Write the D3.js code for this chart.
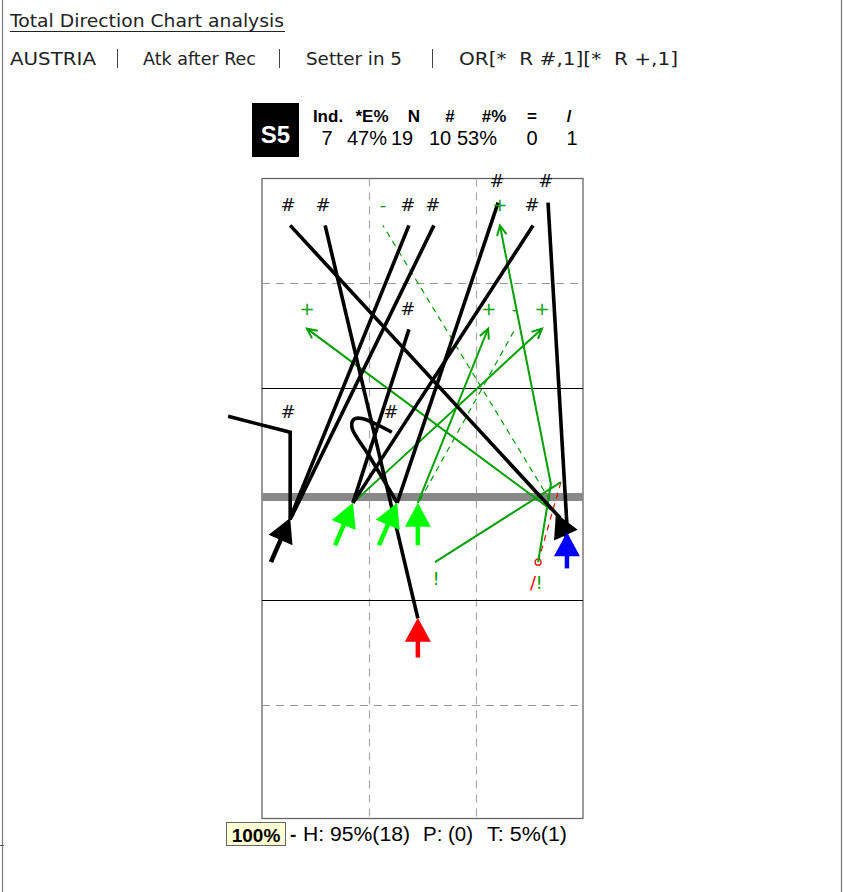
<!DOCTYPE html>
<html>
<head>
<meta charset="utf-8">
<script src="https://cdnjs.cloudflare.com/ajax/libs/d3/7.8.5/d3.min.js"></script>
<style>
  html, body { margin: 0; padding: 0; background: #fff; }
  svg { display: block; }
</style>
</head>
<body>
<div id="chart"></div>
<script>
// ---- data: court coordinates in metres (x across 0-9, y from far baseline 0 to own baseline 18)
var title = 'Total Direction Chart analysis';
var filters = ['AUSTRIA', 'Atk after Rec', 'Setter in 5', 'OR[*  R #,1][*  R +,1]'];

var setter = 'S5';
var statHeads = ['Ind.', '*E%', 'N', '#', '#%', '=', '/'];
var statValues = ['7', '47%', '19', '10', '53%', '0', '1'];

var courtLines = [0, 3, 6, 9, 12, 15, 18];
var laneLines = [0, 3, 6, 9];

// kills (#), start -> end
var killAttacks = [
    [[8.36, 9.61], [0.79, 1.34]],
    [[4.37, 12.51], [1.77, 1.34]],
    [[0.79, 9.61], [4.12, 1.34]],
    [[0.81, 9.61], [4.82, 1.34]],
    [[3.79, 9.17], [6.62, 0.69]],
    [[2.55, 9.17], [7.60, 1.34]],
    [[8.55, 9.82], [8.02, 0.69]],
    [[2.55, 9.17], [4.12, 4.31]],
    [[0.79, 9.67], [0.79, 7.21], [-0.95, 6.77]]
];
var killCurves = [
    [[3.79, 9.17], [3.03, 7.90], [2.52, 7.07], [2.58, 6.85], [2.80, 6.83], [3.64, 7.21]]
];
// positive attacks (+), arrow at the end
var plusAttacks = [
    [[8.24, 9.47], [1.26, 4.29]],
    [[2.55, 9.17], [7.85, 4.29]],
    [[4.37, 9.17], [6.34, 4.29]],
    [[7.74, 10.89], [8.10, 8.64], [6.67, 1.34]]
];
var bangAttacks = [
    [[4.85, 10.89], [8.38, 8.59]]
];
// negative attacks (-), dashed
var minusAttacks = [
    [[8.07, 9.09], [3.39, 1.34]],
    [[4.43, 9.09], [7.09, 4.31]]
];
var errorAttacks = [
    [[8.38, 8.59], [7.74, 10.89]]
];

// set / pass arrows, tail -> tip
var setsBlack = [[[0.25, 10.89], [0.79, 9.61]], [[8.78, 10.69], [8.24, 9.47]]];
var setsGreen = [[[2.05, 10.40], [2.55, 9.17]], [[3.28, 10.40], [3.79, 9.17]], [[4.37, 10.40], [4.37, 9.17]]];
var setsBlue = [[[8.55, 11.07], [8.55, 10.02]]];
var setsRed = [[[4.37, 13.63], [4.37, 12.49]]];

// result symbols
var resultMarks = [
    ['#', 0.73, 0.74], ['#', 1.71, 0.74], ['-', 3.39, 0.74], ['#', 4.09, 0.74], ['#', 4.79, 0.74],
    ['#', 6.59, 0.06], ['+', 6.67, 0.74], ['#', 7.57, 0.74], ['#', 7.96, 0.06],
    ['+', 1.26, 3.71], ['#', 4.09, 3.71], ['+', 6.36, 3.71], ['-', 7.09, 3.71], ['+', 7.85, 3.71],
    ['#', 0.73, 6.63], ['#', 3.62, 6.63],
    ['!', 4.88, 11.36], ['/', 7.60, 11.48], ['!', 7.77, 11.48]
];

var share = '100%';
var footerStats = [['H', '95%', 18], ['P', '', 0], ['T', '5%', 1]];

// ---- drawing
var W = 843, H = 892;
var svg = d3.select('#chart').append('svg').attr('width', W).attr('height', H);

var x = d3.scaleLinear().domain([0, 9]).range([262, 583]);
var y = d3.scaleLinear().domain(courtLines).range([178.5, 283.5, 388.5, 497, 600.5, 705.5, 818.5]);

// page frame
svg.append('line').attr('x1', 2.5).attr('x2', 2.5).attr('y1', 0).attr('y2', H).attr('stroke', '#777').attr('stroke-width', 1.2);
svg.append('line').attr('x1', 841.5).attr('x2', 841.5).attr('y1', 0).attr('y2', H).attr('stroke', '#777').attr('stroke-width', 1.2);
svg.append('line').attr('x1', 0).attr('x2', 4).attr('y1', 845.5).attr('y2', 845.5).attr('stroke', '#555');

// title + filters
var sans = 'DejaVu Sans, Verdana, sans-serif';
var arial = 'Liberation Sans, Arial, sans-serif';
svg.append('text').attr('x', 10).attr('y', 27).attr('font-family', sans).attr('font-size', 18)
    .attr('textLength', 274).attr('lengthAdjust', 'spacingAndGlyphs').attr('fill', '#222').text(title);
svg.append('line').attr('x1', 10).attr('x2', 285).attr('y1', 31.5).attr('y2', 31.5).attr('stroke', '#222');

var filterX = [[10, 86], [143, 113], [306, 96], [459, 219]];
var sepX = [117, 279, 432];
filters.forEach(function (f, i) {
    svg.append('text').attr('x', filterX[i][0]).attr('y', 65).attr('font-family', sans).attr('font-size', 18)
        .attr('textLength', filterX[i][1]).attr('lengthAdjust', 'spacingAndGlyphs')
        .attr('fill', '#222').style('white-space', 'pre').text(f);
});
sepX.forEach(function (sx) {
    svg.append('line').attr('x1', sx + 0.5).attr('x2', sx + 0.5).attr('y1', 49).attr('y2', 68)
        .attr('stroke', '#444').attr('stroke-width', 1);
});

// stats block
svg.append('rect').attr('x', 252).attr('y', 103).attr('width', 47).attr('height', 54).attr('fill', '#000');
svg.append('text').attr('x', 275.5).attr('y', 143).attr('text-anchor', 'middle').attr('font-family', arial)
    .attr('font-weight', 'bold').attr('font-size', 24).attr('fill', '#fff').text(setter);
var headX = [328, 372, 414, 450, 494, 532, 569];
var valX = [327, 367, 402, 440, 477, 532, 572];
svg.selectAll('text.head').data(statHeads).enter().append('text').attr('class', 'head')
    .attr('x', function (d, i) { return headX[i]; }).attr('y', 122).attr('text-anchor', 'middle')
    .attr('font-family', arial).attr('font-weight', 'bold').attr('font-size', 17).text(function (d) { return d; });
svg.selectAll('text.val').data(statValues).enter().append('text').attr('class', 'val')
    .attr('x', function (d, i) { return valX[i]; }).attr('y', 145).attr('text-anchor', 'middle')
    .attr('font-family', arial).attr('font-size', 20).text(function (d) { return d; });

// court
var court = svg.append('g');
court.append('rect').attr('x', x(0)).attr('y', y(0)).attr('width', x(9) - x(0)).attr('height', y(18) - y(0))
    .attr('fill', 'none').attr('stroke', '#666').attr('stroke-width', 1.3);
laneLines.slice(1, 3).forEach(function (v) {
    court.append('line').attr('x1', x(v) + 0.5).attr('x2', x(v) + 0.5).attr('y1', y(0)).attr('y2', y(18))
        .attr('stroke', '#aaa').attr('stroke-width', 1.2).attr('stroke-dasharray', '8,6');
});
[3, 15].forEach(function (v) {
    court.append('line').attr('x1', x(0)).attr('x2', x(9)).attr('y1', y(v)).attr('y2', y(v))
        .attr('stroke', '#999').attr('stroke-width', 1.2).attr('stroke-dasharray', '8,6');
});
[6, 12].forEach(function (v) {
    court.append('line').attr('x1', x(0)).attr('x2', x(9)).attr('y1', y(v)).attr('y2', y(v))
        .attr('stroke', '#000').attr('stroke-width', 1);
});
court.append('line').attr('x1', x(0)).attr('x2', x(9)).attr('y1', y(9)).attr('y2', y(9))
    .attr('stroke', '#888').attr('stroke-width', 8);

var line = d3.line().x(function (d) { return x(d[0]); }).y(function (d) { return y(d[1]); });
var curve = d3.line().x(function (d) { return x(d[0]); }).y(function (d) { return y(d[1]); }).curve(d3.curveCatmullRom);

function drawPaths(data, gen, color, width, dash) {
    court.selectAll(null).data(data).enter().append('path')
        .attr('d', gen).attr('fill', 'none').attr('stroke', color).attr('stroke-width', width)
        .attr('stroke-dasharray', dash || null).attr('stroke-linecap', 'butt').attr('stroke-linejoin', 'miter');
}

function openHead(pts, color) {
    var a = pts[pts.length - 2], b = pts[pts.length - 1];
    var x1 = x(a[0]), y1 = y(a[1]), x2 = x(b[0]), y2 = y(b[1]);
    var ang = Math.atan2(y2 - y1, x2 - x1), len = 11, spread = 0.45;
    var p = 'M' + (x2 - len * Math.cos(ang - spread)) + ',' + (y2 - len * Math.sin(ang - spread)) +
        'L' + x2 + ',' + y2 +
        'L' + (x2 - len * Math.cos(ang + spread)) + ',' + (y2 - len * Math.sin(ang + spread));
    court.append('path').attr('d', p).attr('fill', 'none').attr('stroke', color).attr('stroke-width', 2);
}

drawPaths(minusAttacks, line, '#00a000', 1.2, '6,5');
drawPaths(errorAttacks, line, '#ff0000', 1.2, '6,5');
errorAttacks.forEach(function (d) {
    var e = d[d.length - 1];
    court.append('circle').attr('cx', x(e[0])).attr('cy', y(e[1])).attr('r', 3)
        .attr('fill', '#fff').attr('stroke', '#ff0000').attr('stroke-width', 1.2);
});
drawPaths(plusAttacks, line, '#00a000', 2);
plusAttacks.forEach(function (d) { openHead(d, '#00a000'); });
drawPaths(bangAttacks, line, '#00a000', 2);
drawPaths(killAttacks, line, '#000', 3.6);
drawPaths(killCurves, curve, '#000', 3.6);

function drawSets(data, color) {
    data.forEach(function (d) {
        var x1 = x(d[0][0]), y1 = y(d[0][1]), x2 = x(d[1][0]), y2 = y(d[1][1]);
        var ang = Math.atan2(y2 - y1, x2 - x1), len = 24, half = 13;
        var bx = x2 - len * Math.cos(ang), by = y2 - len * Math.sin(ang);
        court.append('line').attr('x1', x1).attr('y1', y1).attr('x2', bx + 2 * Math.cos(ang)).attr('y2', by + 2 * Math.sin(ang))
            .attr('stroke', color).attr('stroke-width', 4.5);
        var nx = -Math.sin(ang), ny = Math.cos(ang);
        court.append('path')
            .attr('d', 'M' + x2 + ',' + y2 + 'L' + (bx + half * nx) + ',' + (by + half * ny) +
                'L' + (bx - half * nx) + ',' + (by - half * ny) + 'Z')
            .attr('fill', color);
    });
}
drawSets(setsGreen, '#00ff00');
drawSets(setsBlack, '#000');
drawSets(setsBlue, '#0000ff');
drawSets(setsRed, '#ff0000');

var markColor = { '#': '#111', '+': '#00a000', '-': '#00a000', '!': '#00a000', '/': '#ff0000' };
court.selectAll('text.mark').data(resultMarks).enter().append('text').attr('class', 'mark')
    .attr('x', function (d) { return x(d[1]); }).attr('y', function (d) { return y(d[2]); })
    .attr('dy', '0.36em').attr('text-anchor', 'middle')
    .attr('font-family', sans).attr('font-size', 18)
    .attr('fill', function (d) { return markColor[d[0]]; }).text(function (d) { return d[0]; });

// footer
svg.append('rect').attr('x', 226.5).attr('y', 822.5).attr('width', 59).attr('height', 23)
    .attr('fill', '#ffffd5').attr('stroke', '#666');
svg.append('text').attr('x', 256).attr('y', 842).attr('text-anchor', 'middle').attr('font-family', arial)
    .attr('font-weight', 'bold').attr('font-size', 19).text(share);
svg.append('text').attr('x', 290).attr('y', 841).attr('font-family', arial)
    .attr('font-weight', 'bold').attr('font-size', 19).text('-');
var footX = [[303, 107], [423, 50], [487, 80]];
footerStats.forEach(function (s, i) {
    svg.append('text').attr('x', footX[i][0]).attr('y', 841).attr('font-family', arial).attr('font-size', 20)
        .attr('textLength', footX[i][1]).attr('lengthAdjust', 'spacingAndGlyphs')
        .text(s[0] + ': ' + s[1] + '(' + s[2] + ')');
});
</script>
</body>
</html>
